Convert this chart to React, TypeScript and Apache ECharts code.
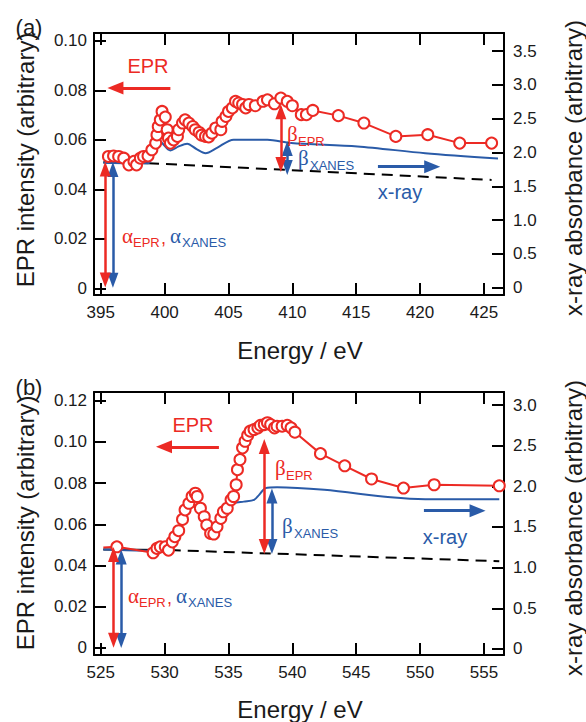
import React, { useEffect, useRef } from "react";
import * as echarts from "echarts";

const RED = "#EC2A24";
const BLUE = "#2A5BA8";
const INK = "#1a1a1a";

// ---------- Panel (a) ----------
const xRangeA = [394.47, 426.57];
const yLeftRangeA = [-0.0027, 0.1032];
const yRightRangeA = [-0.11, 3.77];

const eprA_E = [395.6, 396.0, 396.4, 396.8, 397.2, 397.6, 397.8, 398.1, 398.35, 398.7, 399.0, 399.3, 399.4, 399.5, 399.66, 399.8, 400.05, 400.2, 400.3, 400.45, 400.7, 401.0, 401.1, 401.4, 401.6, 401.9, 402.2, 402.4, 402.7, 402.9, 403.2, 403.45, 403.7, 404.0, 404.4, 404.5, 404.8, 405.0, 405.3, 405.55, 405.8, 406.1, 406.35, 406.6, 407.1, 407.7, 408.05, 408.6, 409.1, 409.6, 410.0, 410.7, 411.1, 411.6, 413.6, 415.6, 418.1, 420.6, 423.1, 425.6];
const eprA_V = [0.0533, 0.0535, 0.0533, 0.0526, 0.0499, 0.0513, 0.0499, 0.0526, 0.0533, 0.0535, 0.056, 0.0587, 0.062, 0.0654, 0.0681, 0.0715, 0.0692, 0.0641, 0.0607, 0.0587, 0.06, 0.0614, 0.0641, 0.0668, 0.0681, 0.0668, 0.0654, 0.0641, 0.063, 0.0619, 0.0614, 0.0612, 0.0627, 0.0648, 0.0641, 0.0675, 0.0695, 0.0715, 0.0729, 0.0756, 0.0749, 0.0743, 0.0729, 0.0743, 0.0738, 0.0756, 0.0762, 0.0746, 0.0769, 0.0756, 0.0738, 0.0702, 0.0702, 0.0719, 0.0698, 0.0668, 0.0614, 0.0621, 0.0587, 0.0587];

const xanesA_E = [395.2, 398.7, 399.1, 399.5, 399.8, 400.45, 401.1, 401.76, 402.5, 403.2, 404.1, 405.4, 408.05, 409.9, 415.1, 420.4, 426.1];
const xanesA_V = [1.85, 1.84, 1.99, 2.2, 2.14, 2.03, 2.09, 2.13, 2.05, 1.99, 2.07, 2.19, 2.19, 2.14, 2.09, 1.99, 1.91];

const preEdgeA_E = [395.2, 398.7];
const preEdgeA_V = [0.051, 0.0506];
const baseA_E = [398.7, 425.6];
const baseA_V = [0.0506, 0.0438];

// arrows: [x, yStart, yEnd]
const alphaEprA = [395.35, 0.0482, 0.0034];
const alphaXanesA = [395.95, 1.75, 0.11];
const betaEprA = [409.1, 0.0714, 0.05];
const betaXanesA = [409.6, 2.06, 1.78];
// horizontal: [xStart, xEnd, y]
const eprArrowA = [400.45, 396.15, 0.081];
const xrayArrowA = [416.7, 420.95, 1.79];

// ---------- Panel (b) ----------
const xRangeB = [524.47, 556.57];
const yLeftRangeB = [-0.0034, 0.1242];
const yRightRangeB = [-0.074, 3.16];

const eprB_E = [525.2, 526.26, 529.1, 529.4, 529.66, 530.05, 530.3, 530.6, 530.8, 531.1, 531.4, 531.6, 531.9, 532.15, 532.4, 532.55, 532.8, 533.1, 533.3, 533.6, 533.85, 534.1, 534.4, 534.6, 534.9, 535.2, 535.4, 535.6, 535.7, 535.9, 536.1, 536.3, 536.5, 536.7, 537.0, 537.3, 537.5, 537.8, 538.05, 538.3, 538.6, 538.8, 539.2, 539.6, 539.9, 540.2, 542.2, 544.1, 546.2, 548.7, 551.1, 556.2];
const eprB_V = [0.0488, 0.0491, 0.0462, 0.0483, 0.0491, 0.0491, 0.0475, 0.0515, 0.054, 0.0569, 0.0624, 0.067, 0.0702, 0.0735, 0.0751, 0.0735, 0.0678, 0.0637, 0.0597, 0.0556, 0.0553, 0.0588, 0.0629, 0.0661, 0.0678, 0.0719, 0.0735, 0.0792, 0.0865, 0.0914, 0.0971, 0.1003, 0.1031, 0.1052, 0.106, 0.1068, 0.108, 0.1084, 0.1093, 0.1084, 0.1068, 0.1076, 0.1076, 0.108, 0.1068, 0.1047, 0.0943, 0.0884, 0.082, 0.0776, 0.0792, 0.0787];

const xanesB_E = [525.2, 530.45, 530.97, 531.5, 532.15, 532.7, 533.2, 533.8, 534.4, 534.9, 535.4, 536.2, 537.0, 537.4, 537.9, 538.8, 542.5, 547.7, 550.4, 556.2];
const xanesB_V = [1.224, 1.206, 1.38, 1.586, 1.763, 1.669, 1.545, 1.496, 1.586, 1.73, 1.792, 1.812, 1.833, 1.895, 1.978, 1.99, 1.957, 1.866, 1.842, 1.842];

const preEdgeB_E = [525.2, 530.4];
const preEdgeB_V = [0.0478, 0.0475];
const baseB_E = [530.4, 556.2];
const baseB_V = [0.0475, 0.0421];

const alphaEprB = [526.0, 0.0454, 0.0037];
const alphaXanesB = [526.6, 1.13, 0.105];
const betaEprB = [537.8, 0.0977, 0.0493];
const betaXanesB = [538.4, 1.88, 1.26];
const eprArrowB = [534.25, 529.95, 0.0976];
const xrayArrowB = [550.3, 554.5, 1.7];

const FONT = "Liberation Sans";

const zip = (a: number[], b: number[]) => a.map((v, i) => [v, b[i]]);

const vArrow = (a: number[]) => [
  { coord: [a[0], a[1]], symbol: "triangle" },
  { coord: [a[0], a[2]], symbol: "triangle" },
];
const hArrow = (a: number[]) => [
  { coord: [a[0], a[2]], symbol: "none", lineStyle: { width: 3 } },
  { coord: [a[1], a[2]], symbol: "triangle", symbolSize: [13, 16] },
];

const markLines = (color: string, data: any[]) => ({
  silent: true,
  animation: false,
  symbolSize: [11, 15],
  label: { show: false },
  emphasis: { disabled: true },
  lineStyle: { color, width: 2.5, type: "solid" },
  data,
});

const xAxis = (gridIndex: number, range: number[], position: string, showLabel: boolean) => ({
  type: "value",
  gridIndex,
  position,
  min: range[0],
  max: range[1],
  minInterval: 5,
  maxInterval: 5,
  splitNumber: 6,
  axisLine: { show: true, onZero: false, lineStyle: { color: "#000", width: 2 } },
  axisTick: { show: true, inside: true, length: 12, lineStyle: { color: "#000", width: 2 } },
  axisLabel: {
    show: showLabel,
    showMinLabel: false,
    showMaxLabel: false,
    fontSize: 17,
    color: INK,
    fontFamily: FONT,
    margin: 9,
  },
  splitLine: { show: false },
});

const yAxis = (gridIndex: number, range: number[], position: string, step: number, digits: number, margin: number) => ({
  type: "value",
  gridIndex,
  position,
  min: range[0],
  max: range[1],
  minInterval: step,
  maxInterval: step,
  splitNumber: 6,
  axisLine: { show: true, onZero: false, lineStyle: { color: "#000", width: 2 } },
  axisTick: { show: true, inside: true, length: 12, lineStyle: { color: "#000", width: 2 } },
  axisLabel: {
    showMinLabel: false,
    showMaxLabel: false,
    fontSize: 17,
    color: INK,
    fontFamily: FONT,
    margin,
    formatter: (v: number) => (Math.abs(v) < 1e-9 ? "0" : v.toFixed(digits)),
  },
  splitLine: { show: false },
});

const panelSeries = (
  xi: number, yl: number, yr: number,
  eE: number[], eV: any[], xE: number[], xV: number[],
  pE: number[], pV: number[], bE: number[], bV: number[],
  aR: number[], aB: number[], bR: number[], bB: number[], hR: number[], hB: number[],
  firstNoSymbol: boolean
) => [
  {
    type: "line", xAxisIndex: xi, yAxisIndex: yl, z: 1,
    data: zip(pE, pV), symbol: "none", silent: true,
    lineStyle: { color: "#000", width: 2 },
  },
  {
    type: "line", xAxisIndex: xi, yAxisIndex: yl, z: 1,
    data: zip(bE, bV), symbol: "none", silent: true,
    lineStyle: { color: "#000", width: 2, type: [11, 7] },
  },
  {
    type: "line", xAxisIndex: xi, yAxisIndex: yr, z: 2,
    data: zip(xE, xV), symbol: "none", smooth: 0.3, silent: true,
    lineStyle: { color: BLUE, width: 2 },
    markLine: markLines(BLUE, [vArrow(aB), vArrow(bB), hArrow(hB)]),
  },
  {
    type: "line", xAxisIndex: xi, yAxisIndex: yl, z: 3,
    data: zip(eE, eV).map((p, i) => (firstNoSymbol && i === 0 ? { value: p, symbol: "none" } : p)),
    symbol: "emptyCircle", symbolSize: 11, silent: true,
    itemStyle: { color: RED, borderColor: RED, borderWidth: 2 },
    lineStyle: { color: RED, width: 2 },
    markLine: markLines(RED, [vArrow(aR), vArrow(bR), hArrow(hR)]),
  },
];

const txt = (text: string, x: number, y: number, size: number, color: string, opts: any = {}) => ({
  type: "text",
  x, y,
  rotation: opts.rotation || 0,
  silent: true,
  z: 100,
  style: {
    text,
    font: `${size}px "${opts.family || FONT}"`,
    fill: color,
    align: opts.align || "left",
    verticalAlign: "middle",
  },
});

const annotations = (p: any) => [
  txt("EPR", p.epr[0], p.epr[1], 20, RED, { align: "center" }),
  txt("x-ray", p.xray[0], p.xray[1], 20, BLUE, { align: "center" }),
  txt("β", p.bE[0], p.bE[1], 21, RED, { family: "Liberation Serif" }),
  txt("EPR", p.bE[0] + 11, p.bE[1] + 7, 13, RED),
  txt("β", p.bX[0], p.bX[1], 21, BLUE, { family: "Liberation Serif" }),
  txt("XANES", p.bX[0] + 12, p.bX[1] + 7, 13, BLUE),
  txt("α", p.a[0], p.a[1], 21, RED, { family: "Liberation Serif" }),
  txt("EPR", p.a[0] + 11, p.a[1] + 6, 13, RED),
  txt(",", p.a[0] + 39, p.a[1] + 2, 18, RED),
  txt("α", p.a[0] + 48, p.a[1], 21, BLUE, { family: "Liberation Serif" }),
  txt("XANES", p.a[0] + 60, p.a[1] + 6, 13, BLUE),
];

function buildOption() {
  return {
    animation: false,
    textStyle: { fontFamily: FONT },
    grid: [
      { left: 94, top: 33, width: 410, height: 262 },
      { left: 94, top: 392, width: 410, height: 263 },
    ],
    xAxis: [
      xAxis(0, xRangeA, "bottom", true),
      xAxis(0, xRangeA, "top", false),
      xAxis(1, xRangeB, "bottom", true),
      xAxis(1, xRangeB, "top", false),
    ],
    yAxis: [
      yAxis(0, yLeftRangeA, "left", 0.02, 2, 7),
      yAxis(0, yRightRangeA, "right", 0.5, 1, 9),
      yAxis(1, yLeftRangeB, "left", 0.02, 2, 7),
      yAxis(1, yRightRangeB, "right", 0.5, 1, 9),
    ],
    series: [
      ...panelSeries(0, 0, 1, eprA_E, eprA_V, xanesA_E, xanesA_V, preEdgeA_E, preEdgeA_V, baseA_E, baseA_V,
        alphaEprA, alphaXanesA, betaEprA, betaXanesA, eprArrowA, xrayArrowA, false),
      ...panelSeries(2, 2, 3, eprB_E, eprB_V, xanesB_E, xanesB_V, preEdgeB_E, preEdgeB_V, baseB_E, baseB_V,
        alphaEprB, alphaXanesB, betaEprB, betaXanesB, eprArrowB, xrayArrowB, true),
    ],
    graphic: [
      txt("(a)", 29, 27, 22, INK, { align: "center" }),
      txt("(b)", 29, 387, 22, INK, { align: "center" }),
      txt("EPR intensity (arbitrary)", 25, 160, 24, INK, { align: "center", rotation: Math.PI / 2 }),
      txt("EPR intensity (arbitrary)", 25, 523, 24, INK, { align: "center", rotation: Math.PI / 2 }),
      txt("x-ray absorbance (arbitrary)", 573, 168, 24, INK, { align: "center", rotation: Math.PI / 2 }),
      txt("x-ray absorbance (arbitrary)", 573, 528, 24, INK, { align: "center", rotation: Math.PI / 2 }),
      txt("Energy / eV", 300, 350, 24, INK, { align: "center" }),
      txt("Energy / eV", 300, 709, 24, INK, { align: "center" }),
      ...annotations({ epr: [148, 66], xray: [400, 192], bE: [287, 134], bX: [298, 158], a: [122, 236] }),
      ...annotations({ epr: [193, 425], xray: [445, 537], bE: [275, 468], bX: [282, 526], a: [128, 596] }),
    ],
  };
}

export default function App() {
  const ref = useRef<HTMLDivElement>(null);
  useEffect(() => {
    if (!ref.current) return;
    const chart = echarts.init(ref.current, null, { renderer: "svg" });
    chart.setOption(buildOption() as any);
    return () => chart.dispose();
  }, []);
  return (
    <div
      ref={ref}
      style={{ position: "fixed", left: 0, top: 0, width: 586, height: 722, background: "#fff" }}
    />
  );
}
